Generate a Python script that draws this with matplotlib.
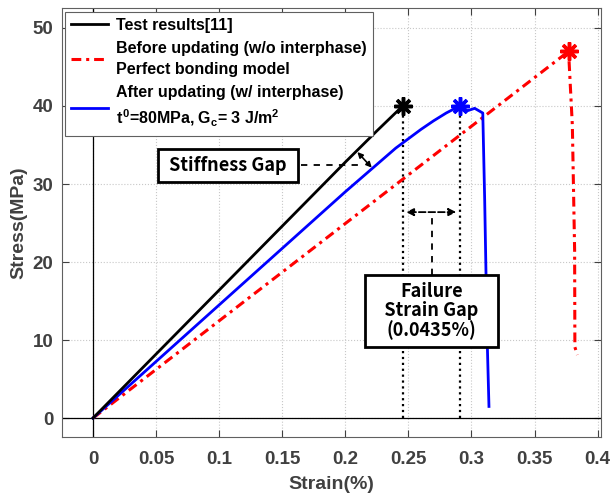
import matplotlib
matplotlib.use("Agg")
import matplotlib.pyplot as plt

plt.rcParams["mathtext.fontset"] = "custom"
plt.rcParams["mathtext.rm"] = "Liberation Sans:bold"
plt.rcParams["mathtext.bf"] = "Liberation Sans:bold"
plt.rcParams["mathtext.it"] = "Liberation Sans:bold"

# 实验曲线
test_strain = [0, 0.05, 0.10, 0.15, 0.20, 0.225, 0.2455]
test_stress = [0, 8.2, 16.4, 24.6, 32.8, 36.8, 40.0]

# 更新前（完美粘接）
before_strain = [0, 0.377, 0.380, 0.3818, 0.382, 0.384]
before_stress = [0, 47.0, 37.5, 21.5, 9.1, 8.1]

# 更新后（含界面相）
after_strain = [0, 0.05, 0.10, 0.15, 0.20, 0.22, 0.24, 0.26, 0.27, 0.28, 0.2907,
                0.297, 0.3026, 0.309, 0.3105, 0.3125, 0.3139]
after_stress = [0, 7.25, 14.5, 21.75, 29.0, 31.8, 34.6, 37.0, 38.1, 39.1, 40.0,
                39.4, 39.7, 39.1, 28.0, 10.0, 1.5]
after_peak = 10

x_ticks = [0, 0.05, 0.1, 0.15, 0.2, 0.25, 0.3, 0.35, 0.4]
x_tick_labels = ["0", "0.05", "0.1", "0.15", "0.2", "0.25", "0.3", "0.35", "0.4"]
y_ticks = [0, 10, 20, 30, 40, 50]

gray = "#404040"
box_font = ["Noto Sans CJK KR", "DejaVu Sans"]
arial = ["Liberation Sans", "DejaVu Sans"]
star = (8, 2, 0)

fig = plt.figure(figsize=(6.13, 4.97), dpi=100)
ax = fig.add_axes([0.101, 0.121, 0.879, 0.862])

ax.grid(True, linestyle=":", color="#c8c8c8", linewidth=0.8)
ax.axhline(0, color="black", linewidth=0.9, zorder=2)
ax.axvline(0, color="black", linewidth=0.9, zorder=2)

ax.plot(test_strain, test_stress, color="black", linewidth=2,
        label="Test results[11]", zorder=4)
ax.plot(before_strain, before_stress, color="red", linestyle=(0, (3.2, 1.6, 1, 1.6)),
        linewidth=2.2,
        label="Before updating (w/o interphase)\nPerfect bonding model", zorder=3)
ax.plot(after_strain, after_stress, color="blue", linewidth=2,
        label="After updating (w/ interphase)\n$t^0$=80MPa, $G_c$= 3 J/m$^2$",
        zorder=3)

# 峰值星号
ax.plot(test_strain[-1], test_stress[-1], marker=star, color="black",
        markersize=13, markeredgewidth=2.5, zorder=5)
ax.plot(before_strain[1], before_stress[1], marker=star, color="red",
        markersize=13, markeredgewidth=2.5, zorder=5)
ax.plot(after_strain[after_peak], after_stress[after_peak], marker=star, color="blue",
        markersize=13, markeredgewidth=2.5, zorder=5)

# 失效应变的竖直点线
ax.plot([test_strain[-1], test_strain[-1]], [0, test_stress[-1]], color="black",
        linestyle=":", linewidth=1.6, zorder=2)
ax.plot([after_strain[after_peak], after_strain[after_peak]], [0, after_stress[after_peak]],
        color="black", linestyle=":", linewidth=1.6, zorder=2)

# Failure strain gap
ax.annotate("", xy=(0.2482, 26.4), xytext=(0.2880, 26.4),
            arrowprops=dict(arrowstyle="<|-|>", color="black", lw=1.3, linestyle="--",
                            shrinkA=0, shrinkB=0, mutation_scale=11))
ax.plot([0.2686, 0.2686], [18.3, 26.4], color="black", linestyle=(0, (3.5, 3.5)),
        linewidth=1.3)
ax.text(0.2686, 13.7, "Failure\n   Strain Gap   \n(0.0435%)", ha="center", va="center",
        fontsize=13, fontweight="bold", family=box_font, linespacing=1.0,
        bbox=dict(boxstyle="square,pad=0.4", facecolor="white", edgecolor="black", linewidth=2))

# Stiffness gap
ax.annotate("", xy=(0.2096, 34.1), xytext=(0.2210, 32.1),
            arrowprops=dict(arrowstyle="<|-|>", color="black", lw=1.2,
                            shrinkA=0, shrinkB=0, mutation_scale=8))
ax.plot([0.165, 0.2135], [32.4, 32.4], color="black", linestyle=(0, (3.5, 3.5)),
        linewidth=1.3)
ax.text(0.1073, 32.4, " Stiffness Gap ", ha="center", va="center",
        fontsize=13, fontweight="bold", family=box_font,
        bbox=dict(boxstyle="square,pad=0.4", facecolor="white", edgecolor="black", linewidth=2))

ax.set_xlim(-0.0246, 0.4025)
ax.set_ylim(-2.4, 52.5)
ax.set_xticks(x_ticks)
ax.set_xticklabels(x_tick_labels)
ax.set_yticks(y_ticks)
ax.tick_params(direction="in", top=True, right=True, labelsize=13.5,
               labelcolor=gray, color=gray, length=5)
ax.tick_params(axis="x", pad=10)
ax.tick_params(axis="y", pad=6)
for lab in ax.get_xticklabels() + ax.get_yticklabels():
    lab.set_fontweight("bold")
    lab.set_family(arial)
for sp in ax.spines.values():
    sp.set_color("#606060")
    sp.set_linewidth(0.8)

ax.set_xlabel("Strain(%)", fontsize=14, fontweight="bold", color=gray, family=arial,
              labelpad=6)
ax.set_ylabel("Stress(MPa)", fontsize=14, fontweight="bold", color=gray, family=arial,
              labelpad=4)

leg = ax.legend(loc="upper left", prop={"family": "Liberation Sans", "weight": "bold", "size": 11.5},
                fancybox=False, edgecolor="#606060", framealpha=1, borderaxespad=0.2,
                handlelength=2.3, handletextpad=0.5, labelspacing=0.5, borderpad=0.4)
leg.get_frame().set_linewidth(0.8)
for t in leg.get_texts():
    t.set_linespacing(1.5)

fig.savefig("out.png", dpi=100)
plt.close(fig)
